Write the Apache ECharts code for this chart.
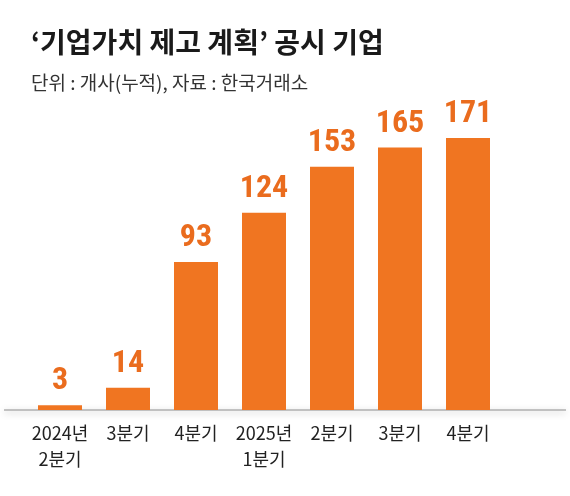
<!DOCTYPE html>
<html>
<head>
<meta charset="utf-8">
<script src="https://cdn.jsdelivr.net/npm/echarts@6/dist/echarts.min.js"></script>
<style>
html, body { margin: 0; padding: 0; background: #fff; }
#chart { width: 570px; height: 496px; }
</style>
</head>
<body>
<div id="chart"></div>
<script>
// 분기 (누적 공시 기업 수)
var quarters = ['2024년\n2분기', '3분기', '4분기', '2025년\n1분기', '2분기', '3분기', '4분기'];
var companies = [3, 14, 93, 124, 153, 165, 171];

var titleText = '‘기업가치 제고 계획’ 공시 기업';
var subText = '단위 : 개사(누적), 자료 : 한국거래소';

var chart = echarts.init(document.getElementById('chart'));
var option = {
    backgroundColor: '#fff',
    title: {
        text: titleText,
        subtext: subText,
        left: 26,
        top: 23,
        itemGap: 17,
        textStyle: {
            fontFamily: 'Noto Sans CJK KR',
            fontSize: 28,
            fontWeight: 'bold',
            color: '#1a1a1a'
        },
        subtextStyle: {
            fontFamily: 'Noto Sans CJK KR',
            fontSize: 19,
            color: '#333'
        }
    },
    grid: {
        left: 26,
        right: 68,
        top: 138,
        bottom: 86
    },
    xAxis: {
        type: 'category',
        data: quarters,
        axisTick: { show: false },
        axisLine: { show: false },
        axisLabel: {
            interval: 0,
            margin: 10,
            fontFamily: 'Noto Sans CJK KR',
            fontSize: 18,
            lineHeight: 26,
            color: '#222'
        }
    },
    yAxis: {
        type: 'value',
        min: 0,
        max: 171,
        show: false,
        splitLine: { show: false }
    },
    // 기준선 그림자
    graphic: [{
        type: 'line',
        shape: { x1: 4, y1: 410, x2: 566, y2: 410 },
        style: {
            stroke: 'rgba(150,150,150,0.55)',
            lineWidth: 2,
            shadowBlur: 7,
            shadowOffsetY: 2,
            shadowColor: 'rgba(0,0,0,0.4)'
        },
        z: 1
    }],
    series: [{
        type: 'bar',
        data: companies,
        barWidth: 44,
        z: 3,
        itemStyle: { color: '#F07521' },
        label: {
            show: true,
            position: 'top',
            distance: 8,
            fontFamily: 'Roboto Condensed, Roboto, sans-serif',
            fontWeight: 'bold',
            fontSize: 32,
            color: '#EA6C1E'
        }
    }]
};
chart.setOption(option);
</script>
</body>
</html>
